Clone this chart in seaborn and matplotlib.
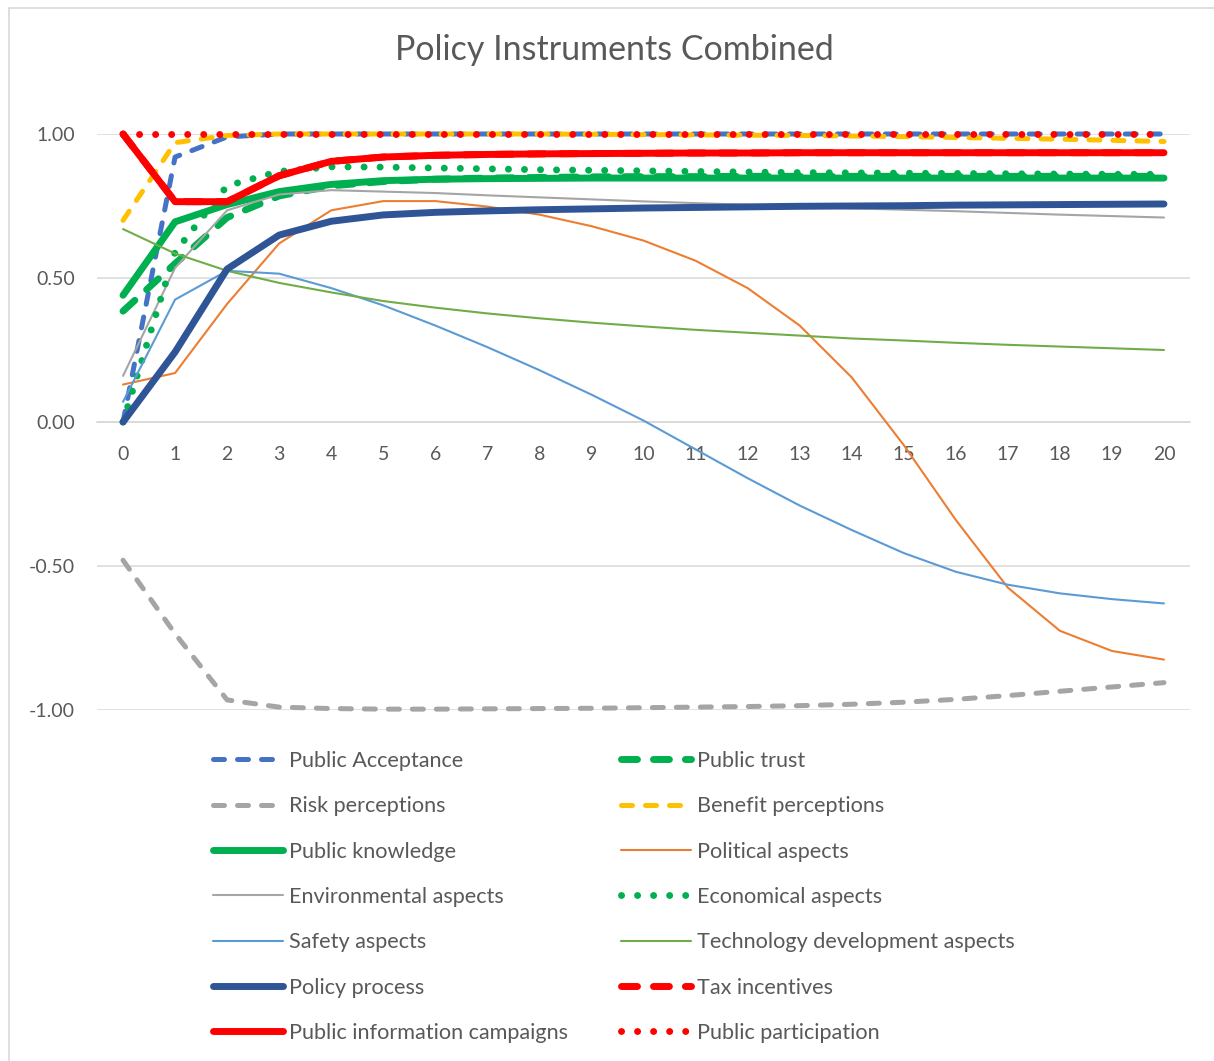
import numpy as np
import pandas as pd
import matplotlib
matplotlib.use("Agg")
import matplotlib.pyplot as plt
from matplotlib.lines import Line2D
import seaborn as sns

# ---- data -------------------------------------------------------------
steps = list(range(21))

public_acceptance = [0.00, 0.92, 0.99, 1.00, 1.00, 1.00, 1.00, 1.00, 1.00, 1.00, 1.00,
                     1.00, 1.00, 1.00, 1.00, 1.00, 1.00, 1.00, 1.00, 1.00, 1.00]
public_trust = [0.385, 0.55, 0.71, 0.785, 0.82, 0.835, 0.843, 0.847, 0.849, 0.851, 0.852,
                0.852, 0.853, 0.853, 0.853, 0.853, 0.853, 0.853, 0.853, 0.853, 0.853]
risk_perceptions = [-0.48, -0.735, -0.965, -0.99, -0.995, -0.997, -0.997, -0.996, -0.995,
                    -0.994, -0.992, -0.99, -0.988, -0.985, -0.98, -0.973, -0.963, -0.95,
                    -0.935, -0.92, -0.905]
benefit_perceptions = [0.70, 0.97, 0.995, 1.00, 1.00, 1.00, 1.00, 1.00, 1.00, 0.999, 0.998,
                       0.997, 0.996, 0.995, 0.993, 0.991, 0.988, 0.985, 0.982, 0.978, 0.974]
public_knowledge = [0.44, 0.695, 0.755, 0.80, 0.825, 0.838, 0.843, 0.845, 0.846, 0.847, 0.847,
                    0.847, 0.847, 0.847, 0.847, 0.847, 0.847, 0.847, 0.847, 0.847, 0.847]
political_aspects = [0.13, 0.17, 0.41, 0.62, 0.735, 0.767, 0.767, 0.748, 0.72, 0.68, 0.63,
                     0.56, 0.465, 0.335, 0.155, -0.08, -0.34, -0.575, -0.725, -0.795, -0.825]
environmental_aspects = [0.16, 0.535, 0.735, 0.79, 0.805, 0.80, 0.795, 0.787, 0.78, 0.773,
                         0.766, 0.76, 0.754, 0.748, 0.742, 0.737, 0.732, 0.726, 0.72, 0.715, 0.71]
economical_aspects = [0.0, 0.59, 0.82, 0.87, 0.886, 0.885, 0.882, 0.879, 0.876, 0.874, 0.872,
                      0.87, 0.868, 0.866, 0.865, 0.864, 0.863, 0.862, 0.861, 0.86, 0.86]
safety_aspects = [0.07, 0.425, 0.525, 0.515, 0.465, 0.405, 0.335, 0.26, 0.18, 0.095, 0.005,
                  -0.095, -0.195, -0.29, -0.375, -0.455, -0.52, -0.565, -0.595, -0.615, -0.63]
technology_aspects = [0.67, 0.585, 0.525, 0.483, 0.45, 0.42, 0.397, 0.377, 0.36, 0.345, 0.332,
                      0.32, 0.31, 0.30, 0.29, 0.283, 0.275, 0.268, 0.262, 0.256, 0.25]
policy_process = [0.0, 0.243, 0.531, 0.649, 0.697, 0.719, 0.728, 0.733, 0.737, 0.74, 0.743,
                  0.745, 0.747, 0.749, 0.75, 0.751, 0.753, 0.754, 0.755, 0.756, 0.757]
tax_incentives = [1.0, 0.765, 0.765, 0.855, 0.905, 0.92, 0.926, 0.929, 0.931, 0.932, 0.933,
                  0.934, 0.934, 0.935, 0.935, 0.935, 0.935, 0.935, 0.935, 0.935, 0.935]
information_campaigns = [1.0, 0.765, 0.765, 0.855, 0.905, 0.92, 0.926, 0.929, 0.931, 0.932, 0.933,
                         0.934, 0.934, 0.935, 0.935, 0.935, 0.935, 0.935, 0.935, 0.935, 0.935]
public_participation = [1.0] * 21

y_ticks = [-1.0, -0.5, 0.0, 0.5, 1.0]
title = "Policy Instruments Combined"

# ---- styles -----------------------------------------------------------
DASH = (0, (2.2, 2.6))
LONG_DASH = (0, (2.3, 2.3))
ROUND_DOT = (0, (0.01, 2.3))

series = [
    ("Public Acceptance", public_acceptance, "#4472C4", 3.6, DASH),
    ("Public trust", public_trust, "#00B050", 5.0, LONG_DASH),
    ("Risk perceptions", risk_perceptions, "#A5A5A5", 3.6, DASH),
    ("Benefit perceptions", benefit_perceptions, "#FFC000", 3.6, DASH),
    ("Public knowledge", public_knowledge, "#00B050", 5.0, "-"),
    ("Political aspects", political_aspects, "#ED7D31", 1.5, "-"),
    ("Environmental aspects", environmental_aspects, "#A5A5A5", 1.5, "-"),
    ("Economical aspects", economical_aspects, "#00B050", 5.0, ROUND_DOT),
    ("Safety aspects", safety_aspects, "#5B9BD5", 1.5, "-"),
    ("Technology development aspects", technology_aspects, "#70AD47", 1.5, "-"),
    ("Policy process", policy_process, "#2F5597", 5.0, "-"),
    ("Tax incentives", tax_incentives, "#FF0000", 5.0, LONG_DASH),
    ("Public information campaigns", information_campaigns, "#FF0000", 5.0, "-"),
    ("Public participation", public_participation, "#FF0000", 5.0, ROUND_DOT),
]

TEXT = "#595959"
GRID = "#D9D9D9"

sns.set_theme(style="white")
plt.rcParams["font.family"] = ["Lato", "DejaVu Sans"]
plt.rcParams["axes.unicode_minus"] = False

W, H = 1214, 1061
fig = plt.figure(figsize=(W / 100, H / 100), dpi=100)
fig.patch.set_facecolor("white")

# plot area in pixel terms
left, right, top, bottom = 97, 1190, 134, 710
ax = fig.add_axes([left / W, 1 - bottom / H, (right - left) / W, (bottom - top) / H])
ax.set_facecolor("none")

handles = {}
for name, vals, color, lw, ls in series:
    df = pd.DataFrame({"step": steps, "value": vals})
    sns.lineplot(data=df, x="step", y="value", ax=ax, color=color, linewidth=lw,
                 linestyle=ls, dash_capstyle="round", solid_capstyle="round",
                 solid_joinstyle="round", dash_joinstyle="round", clip_on=False,
                 zorder=3)
    handles[name] = ax.get_lines()[-1]

if ax.get_legend() is not None:
    ax.get_legend().remove()

ax.set_xlim(-0.5, 20.5)
ax.set_ylim(-1.0, 1.0)
ax.set_xticks(steps)
ax.set_xticklabels([str(s) for s in steps])
ax.set_yticks(y_ticks)
ax.set_yticklabels([f"{v:.2f}" for v in y_ticks])
ax.set_xlabel("")
ax.set_ylabel("")

ax.grid(axis="y", color=GRID, linewidth=1.1, zorder=0)
ax.grid(axis="x", visible=False)
for s in ["top", "right", "left"]:
    ax.spines[s].set_visible(False)
ax.spines["bottom"].set_position(("data", 0))
ax.spines["bottom"].set_color(GRID)
ax.spines["bottom"].set_linewidth(1.1)
ax.spines["bottom"].set_zorder(0)
ax.tick_params(axis="x", length=0, pad=17, labelsize=14, labelcolor=TEXT)
ax.tick_params(axis="y", length=0, pad=16, labelsize=14, labelcolor=TEXT)

fig.text(614 / W, 1 - 50 / H, title, ha="center", va="center",
         fontsize=24.5, color=TEXT)

# legend: two columns, Excel row order
col1 = ["Public Acceptance", "Risk perceptions", "Public knowledge", "Environmental aspects",
        "Safety aspects", "Policy process", "Public information campaigns"]
col2 = ["Public trust", "Benefit perceptions", "Political aspects", "Economical aspects",
        "Technology development aspects", "Tax incentives", "Public participation"]

leg_kw = dict(loc="center left", frameon=False, fontsize=15.6, handlelength=3.25,
              handletextpad=0.25, labelspacing=1.17, borderpad=0, borderaxespad=0,
              labelcolor=TEXT, bbox_transform=fig.transFigure)
leg1 = fig.legend([handles[n] for n in col1], col1,
                  bbox_to_anchor=(213 / W, 1 - 897 / H), **leg_kw)
leg2 = fig.legend([handles[n] for n in col2], col2,
                  bbox_to_anchor=(621 / W, 1 - 897 / H), **leg_kw)

# chart area border
fig.add_artist(Line2D([8.5 / W, 1.0], [1 - 7.5 / H, 1 - 7.5 / H], transform=fig.transFigure,
                      color=GRID, linewidth=1.2))
fig.add_artist(Line2D([8.5 / W, 8.5 / W], [0.0, 1 - 7.5 / H], transform=fig.transFigure,
                      color=GRID, linewidth=1.2))

fig.savefig("out.png", dpi=100, facecolor="white")
